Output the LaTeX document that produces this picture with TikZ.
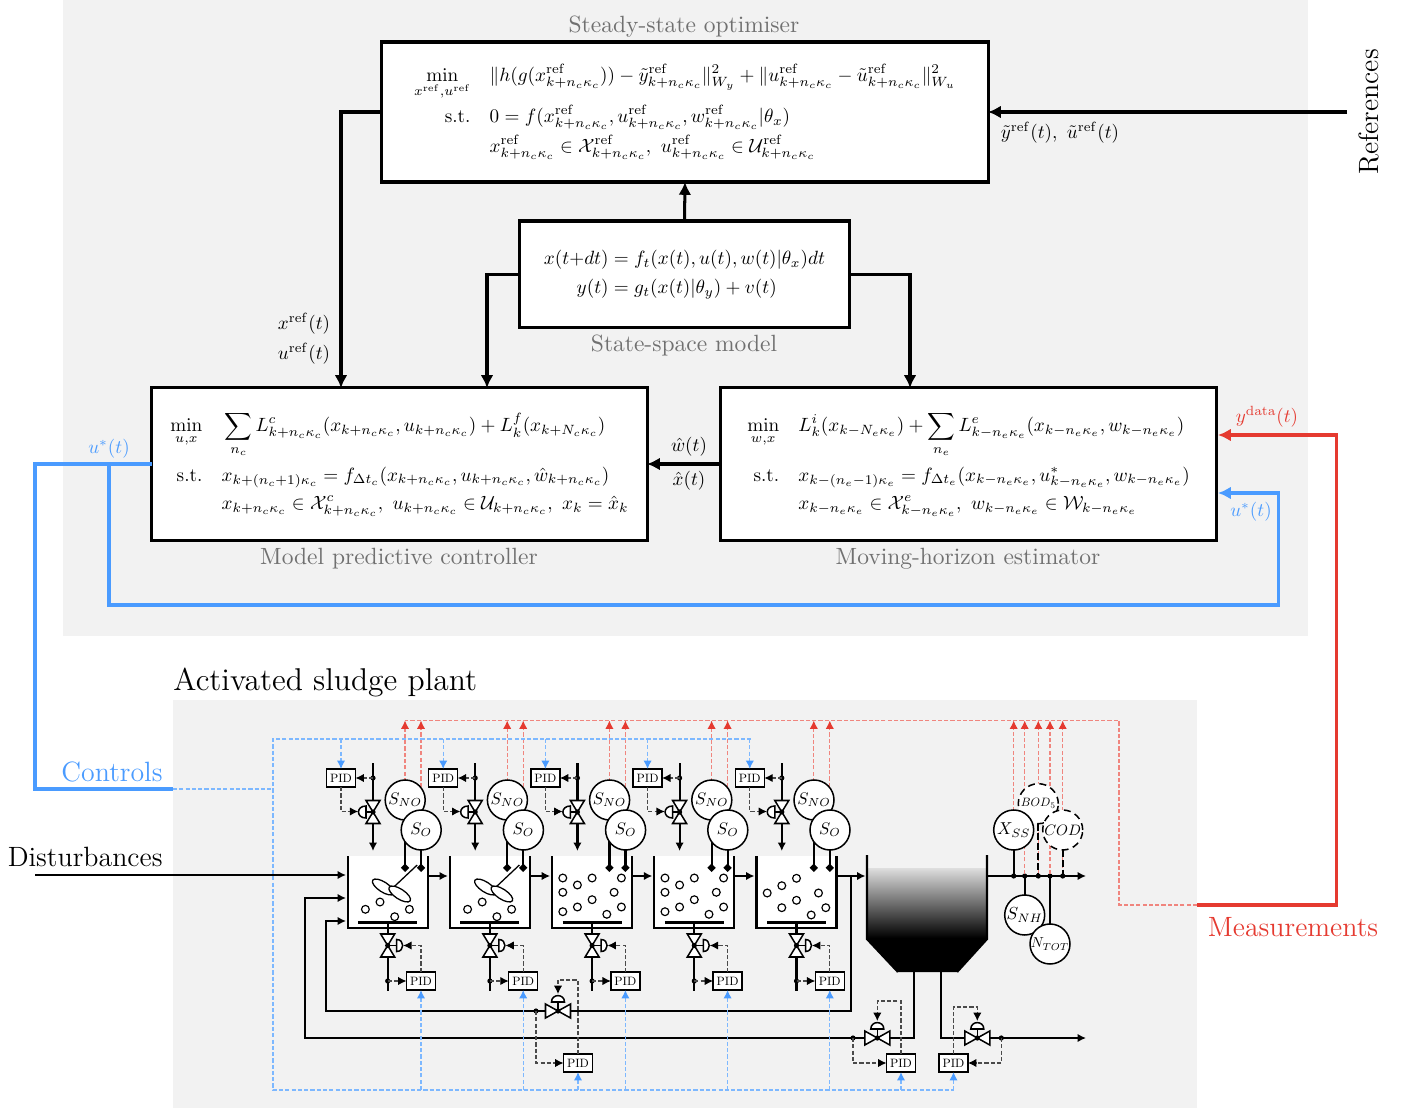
\documentclass[tikz,border=0pt]{standalone}
\usepackage{amsmath}
\usepackage{graphicx}
\usetikzlibrary{arrows.meta,calc}
\definecolor{panelgrey}{HTML}{F2F2F2}
\definecolor{capgrey}{HTML}{707070}
\definecolor{ctrlblue}{HTML}{4A9BFF}
\definecolor{measred}{HTML}{E53A30}
\definecolor{ctrlsoft}{HTML}{7DB8FF}
\definecolor{meassoft}{HTML}{F0857E}
\definecolor{linksoft}{HTML}{4A4A4A}
\newcommand{\rfx}{\mathrm{ref}}
\newcommand{\kcc}{k+n_c\kappa_c}
\newcommand{\kee}{k-n_e\kappa_e}
\newcommand{\eqn}[1]{\scalebox{0.825}{$#1$}}
\newcommand{\sens}[2]{\makebox[0pt]{\scalebox{#1}{$#2$}}}
\newcommand{\pidtxt}{\scalebox{0.52}{PID}}
\tikzset{
  box/.style={draw=black,fill=white,line width=1.3pt,inner sep=0pt,outer sep=0pt},
  boxcaption/.style={text=capgrey,font=\fontsize{10.1}{13}\selectfont},
  biglabel/.style={font=\fontsize{12}{14}\selectfont,inner sep=0pt},
  mathlabel/.style={scale=0.82},
  mainarrow/.style={line width=1.3pt,-{Latex[length=5.5pt,width=5.5pt]}},
  blueline/.style={line width=1.3pt,color=ctrlblue},
  redline/.style={line width=1.3pt,color=measred},
  pipe/.style={line width=0.95pt},
  pipearrow/.style={line width=0.95pt,-{Latex[length=3.6pt,width=3.6pt]}},
  pidbox/.style={draw=black,fill=white,line width=0.65pt,minimum width=12.5pt,minimum height=7.8pt,inner sep=0pt,outer sep=0pt},
  sensor/.style={circle,draw=black,fill=white,line width=0.65pt,minimum size=17.2pt,inner sep=0pt,outer sep=0pt},
  dsensor/.style={sensor,densely dashed},
  bluedash/.style={color=ctrlsoft,line width=0.55pt,dash pattern=on 1.8pt off 0.9pt,-{Latex[length=3.6pt,width=3.6pt,color=ctrlblue]}},
  reddash/.style={color=meassoft,line width=0.55pt,dash pattern=on 1.8pt off 0.9pt,-{Latex[length=3.6pt,width=3.6pt,color=measred]}},
  bluedashn/.style={color=ctrlsoft,line width=0.55pt,dash pattern=on 1.8pt off 0.9pt},
  reddashn/.style={color=meassoft,line width=0.55pt,dash pattern=on 1.8pt off 0.9pt},
  linkarrow/.style={color=linksoft,line width=0.5pt,dash pattern=on 1.8pt off 0.9pt,-{Latex[length=3.6pt,width=3.6pt,color=black]}},
  valvepart/.style={draw=black,fill=white,line width=0.65pt},
  bubble/.style={draw=black,fill=white,line width=0.5pt},
  vvalve/.pic={\path[valvepart] (-7,-11.5)--(7,-11.5)--(0,0)--cycle; \path[valvepart] (-7,11.5)--(7,11.5)--(0,0)--cycle; \fill (0,0) circle[radius=2.6];},
  hvalve/.pic={\path[valvepart] (-12.5,-7)--(-12.5,7)--(0,0)--cycle; \path[valvepart] (12.5,-7)--(12.5,7)--(0,0)--cycle; \fill (0,0) circle[radius=2.6];},
  actleft/.pic={\draw[line width=0.65pt] (0,0)--(-7,0); \path[valvepart] (-7,-6) .. controls (-17,-6) and (-17,6) .. (-7,6) -- cycle;},
  actright/.pic={\draw[line width=0.65pt] (0,0)--(9,0); \path[valvepart] (9,-6) .. controls (17,-6) and (17,6) .. (9,6) -- cycle;},
  acttop/.pic={\draw[line width=0.65pt] (0,0)--(0,-9); \path[valvepart] (-6.5,-9) .. controls (-6.5,-17.5) and (6.5,-17.5) .. (6.5,-9) -- cycle;},
}
\begin{document}
\begin{tikzpicture}[x=0.43pt,y=-0.43pt]
\useasboundingbox (0,0) rectangle (1414,1108);
% panels
\fill[panelgrey] (63,0) rectangle (1308,636);
\fill[panelgrey] (173,700) rectangle (1197,1108);

% upper boxes
\node[box,minimum width=260.6pt,minimum height=60.2pt] (sso) at (685,112) {\eqn{\begin{aligned}
 \min_{x^{\rfx},u^{\rfx}}\quad & \|h(g(x^{\rfx}_{\kcc}))-\tilde y^{\rfx}_{\kcc}\|^2_{W_y}+\|u^{\rfx}_{\kcc}-\tilde u^{\rfx}_{\kcc}\|^2_{W_u}\\[-1pt]
 \text{s.t.}\quad & 0=f(x^{\rfx}_{\kcc},u^{\rfx}_{\kcc},w^{\rfx}_{\kcc}|\theta_x)\\[-1pt]
 & x^{\rfx}_{\kcc}\in\mathcal{X}^{\rfx}_{\kcc},\ u^{\rfx}_{\kcc}\in\mathcal{U}^{\rfx}_{\kcc}
\end{aligned}}};
\node[box,minimum width=141.5pt,minimum height=46pt] (ssm) at (684.5,274.5) {\eqn{\begin{aligned}
 x(t{+}dt)&=f_t(x(t),u(t),w(t)|\theta_x)dt\\[0.5pt]
 y(t)&=g_t(x(t)|\theta_y)+v(t)
\end{aligned}}};
\node[box,minimum width=212.9pt,minimum height=65.4pt] (mpc) at (399.5,464) {\eqn{\begin{aligned}
 \min_{u,x}\quad & \sum_{n_c}L^c_{\kcc}(x_{\kcc},u_{\kcc})+L^f_k(x_{k+N_c\kappa_c})\\
 \text{s.t.}\quad & x_{k+(n_c+1)\kappa_c}=f_{\Delta t_c}(x_{\kcc},u_{\kcc},\hat w_{\kcc})\\
 & x_{\kcc}\in\mathcal{X}^c_{\kcc},\ u_{\kcc}\in\mathcal{U}_{\kcc},\ x_k=\hat x_k
\end{aligned}}};
\node[box,minimum width=212.9pt,minimum height=65.4pt] (mhe) at (968.5,464) {\eqn{\begin{aligned}
 \min_{w,x}\quad & L^i_k(x_{k-N_e\kappa_e})+\sum_{n_e}L^e_{\kee}(x_{\kee},w_{\kee})\\
 \text{s.t.}\quad & x_{k-(n_e-1)\kappa_e}=f_{\Delta t_e}(x_{\kee},u^*_{\kee},w_{\kee})\\
 & x_{\kee}\in\mathcal{X}^e_{\kee},\ w_{\kee}\in\mathcal{W}_{\kee}
\end{aligned}}};

% captions
\node[boxcaption] (capsso) at (684,27) {Steady-state optimiser};
\node[boxcaption] (capssm) at (684,346) {State-space model};
\node[boxcaption] (capmpc) at (399,559) {Model predictive controller};
\node[boxcaption] (capmhe) at (968,559) {Moving-horizon estimator};

% upper connectors
\coordinate (refin) at (1347,112);
\coordinate (ssoleft) at (341,388);
\coordinate (ssmleft) at (487,388);
\coordinate (ssmright) at (910,388);
\draw[mainarrow] (sso.west) -| (ssoleft);
\draw[mainarrow] (ssm.north) -- (sso.south);
\draw[mainarrow] (ssm.west) -| (ssmleft);
\draw[mainarrow] (ssm.east) -| (ssmright);
\draw[mainarrow] (mhe.west) -- (mpc.east);
\draw[mainarrow] (refin) -- (sso.east);
\node[biglabel,rotate=90] (refs) at (1369,112) {References};
\node[mathlabel] (reflab) at (1060,133) {$\tilde y^{\rfx}(t),\ \tilde u^{\rfx}(t)$};
\node[mathlabel] (xreflab) at (304,324) {$x^{\rfx}(t)$};
\node[mathlabel] (ureflab) at (304,354) {$u^{\rfx}(t)$};
\node[mathlabel] (wlab) at (689,447) {$\hat w(t)$};
\node[mathlabel] (xlab) at (689,481) {$\hat x(t)$};

% controls and measurements
\coordinate (uout) at (35,464);
\coordinate (ctrlend) at (173,789);
\coordinate (ubranch) at (109,464);
\coordinate (ubot) at (109,605);
\coordinate (uright) at (1278,605);
\coordinate (uin) at (1218,493);
\coordinate (ycorner) at (1336,905);
\coordinate (yin) at (1218,435);
\coordinate (measstart) at (1197,905);
\draw[blueline,line join=miter] (mpc.west) -- (uout) |- (ctrlend);
\draw[blueline,-{Latex[length=5.5pt,width=5.5pt]}] (ubranch) -- (ubot) -- (uright) |- (uin);
\draw[redline,-{Latex[length=5.5pt,width=5.5pt]}] (measstart) -- (ycorner) |- (yin);
\node[mathlabel,text=ctrlblue] (ulab1) at (109,449) {$u^{*}(t)$};
\node[mathlabel,text=ctrlblue] (ulab2) at (1251,512) {$u^{*}(t)$};
\node[mathlabel,text=measred] (ylab) at (1267,417) {$y^{\mathrm{data}}(t)$};
\node[biglabel,text=ctrlblue,anchor=base east] (ctrllab) at (163,781) {Controls};
\node[biglabel,anchor=base east] (distlab) at (163,866) {Disturbances};
\node[biglabel,text=measred,anchor=base] (measlab) at (1293,936) {Measurements};
\node[font=\fontsize{13.55}{15}\selectfont,inner sep=0pt,anchor=base west] (plantlab) at (173,690) {Activated sludge plant};

% return lines and trunk
\draw[pipearrow] (35,875) -- (346,875);
\draw[pipe] (570,1011) -- (851,1011) -- (851,877);
\draw[pipearrow] (545,1011) -- (326,1011) -- (326,921) -- (346,921);
\draw[pipearrow] (865,1038) -- (305,1038) -- (305,898) -- (346,898);

% tanks
\foreach \i/\xl in {1/347.7,2/449.9,3/552.1,4/654.3,5/756.5}{
\begin{scope}[shift={(\xl,0)}]
  \fill[white] (0,856) rectangle (80,928);
  \draw[line width=0.95pt] (0,856) -- (0,928) -- (80,928) -- (80,856);
  \draw[line width=0.95pt] (10.5,922.5) -- (69.5,922.5);
  \draw[pipe] (40,922.5) -- (40,991);
  \fill (40,981) circle[radius=2.6];
  \path (40,945.5) pic {vvalve} pic {actright};
  \draw[pipearrow] (25.3,763) -- (25.3,851);
  \fill (25.3,778) circle[radius=2.6];
  \path (25.3,812) pic {vvalve} pic {actleft};
  \draw[pipe,-{Diamond[length=3.6pt,width=3.6pt]}] (57.3,800) -- (57.3,872);
  \draw[pipe,-{Diamond[length=3.6pt,width=3.6pt]}] (73.3,830) -- (73.3,872);
  \draw[reddash] (57.3,782) -- (57.3,720.5);
  \draw[reddash] (73.3,812) -- (73.3,720.5);
  \node[sensor] (sno\i) at (57.5,800) {\sens{0.72}{S_{NO}}};
  \node[sensor] (so\i) at (73.5,830) {\sens{0.72}{S_{O}}};
  \node[pidbox] (pidt\i) at (-6.7,778) {\pidtxt};
  \node[pidbox] (pidb\i) at (73.3,981) {\pidtxt};
  \draw[bluedash] (-6.7,739) -- (pidt\i.north);
  \draw[linkarrow] (25.3,778) -- (pidt\i.east);
  \draw[linkarrow] (pidt\i.south) |- (10.5,811.5);
  \draw[linkarrow] (40,981) -- (pidb\i.west);
  \draw[linkarrow] (pidb\i.north) |- (55.5,945.5);
  \draw[bluedash] (73.3,1090) -- (pidb\i.south);
\end{scope}
}
% agitators (first two tanks)
\foreach \xl in {347.7,449.9}{
\begin{scope}[shift={(\xl,0)}]
  \draw[line width=0.55pt] (69.5,865) -- (44,889);
  \draw[bubble,line width=0.55pt,rotate around={-33:(35.5,887)}] (35.5,887) ellipse[x radius=12.5,y radius=5];
  \draw[bubble,line width=0.55pt,rotate around={-33:(52,894)}] (52,894) ellipse[x radius=12.5,y radius=5];
  \foreach \bx/\by in {17.7/53.3,32.3/46,47/60.7,61.7/53.3}{\draw[bubble] (\bx,856+\by) circle[radius=3.9];}
\end{scope}
}
% bubbles of the aerated tanks
\foreach \xl in {552.1,654.3}{
\begin{scope}[shift={(\xl,0)}]
  \foreach \bx/\by in {10.7/22,25.3/29,40/22,69.3/22,10.7/36.3,62/36.3,40/43.7,25.3/51,10.7/55.7,54.7/58.3,69.3/51}{\draw[bubble] (\bx,856+\by) circle[radius=3.9];}
\end{scope}
}
\begin{scope}[shift={(756.5,0)}]
  \foreach \bx/\by in {10.7/37,25.3/29.7,40/22.3,62/37,40/44.3,25.3/51.7,54.7/59,69.3/51.7}{\draw[bubble] (\bx,856+\by) circle[radius=3.9];}
\end{scope}
% tank to tank
\foreach \a/\b in {427.7/447.9,529.9/550.1,632.1/652.3,734.3/754.5,836.5/865.5}{
  \draw[pipearrow] (\a,876) -- (\b,876);
}

% clarifier
\shade[top color=black!13,bottom color=black] (867,868) rectangle (987,938);
\fill[black] (867,938) -- (867,939) -- (898,972) -- (957,972) -- (987,939) -- (987,938) -- cycle;
\draw[line width=0.95pt] (867,855) -- (867,939) -- (898,972) (987,855) -- (987,939) -- (957,972);

% underflow
\draw[pipe] (914,972) -- (914,1038) -- (890,1038);
\draw[pipearrow] (941,972) -- (941,1038) -- (1086,1038);
\path (558,1011) pic {hvalve} pic {acttop};
\path (877.3,1038) pic {hvalve} pic {acttop};
\path (977.3,1038) pic {hvalve} pic {acttop};
\foreach \dx/\dy in {536/1011,853/1038,1001.3/1038}{\fill (\dx,\dy) circle[radius=2.6];}

% lower PIDs
\node[pidbox] (pidr) at (578,1063) {\pidtxt};
\node[pidbox] (pidw) at (901,1063) {\pidtxt};
\node[pidbox] (pide) at (953.5,1063) {\pidtxt};
\draw[linkarrow] (536,1011) |- (pidr.west);
\draw[linkarrow] (pidr.north) -- (578,980) -- (558,980) -- (558,994);
\draw[linkarrow] (853,1038) |- (pidw.west);
\draw[linkarrow] (pidw.north) -- (901,1001) -- (877.3,1001) -- (877.3,1021);
\draw[linkarrow] (1001.3,1038) |- (pide.east);
\draw[linkarrow] (pide.north) -- (953.5,1007) -- (977.3,1007) -- (977.3,1021);

% effluent and quality sensors
\draw[pipearrow] (987,876) -- (1086,876);
\foreach \sx in {1013.7,1024.7,1038.3,1050,1062.7}{
  \fill (\sx,876) circle[radius=2.6];
  \draw[reddash] (\sx,874) -- (\sx,720.5);
}
\node[dsensor] (bod) at (1038.3,803.7) {\sens{0.52}{BOD_5}};
\node[sensor] (xss) at (1013.7,830) {\sens{0.74}{X_{SS}}};
\node[dsensor] (cod) at (1062.7,830) {\sens{0.65}{COD}};
\node[sensor] (snh) at (1024.7,915) {\sens{0.75}{S_{NH}}};
\node[sensor] (ntot) at (1050,944) {\sens{0.62}{N_{TOT}}};
\coordinate (jx) at (1013.7,876);
\coordinate (jh) at (1024.7,876);
\coordinate (jb) at (1038.3,876);
\coordinate (jn) at (1050,876);
\coordinate (jc) at (1062.7,876);
\draw[pipe] (xss.south) -- (jx);
\draw[pipe,dash pattern=on 3pt off 1.2pt] (bod.south) -- (jb);
\draw[pipe,dash pattern=on 3pt off 1.2pt] (cod.south) -- (jc);
\draw[pipe] (jh) -- (snh.north);
\draw[pipe] (jn) -- (ntot.north);

% signal trunks
\draw[bluedashn] (ctrlend) -- (273,789);
\draw[bluedashn] (751.1,739) -- (273,739) -- (273,1090) -- (953.5,1090);
\draw[bluedash] (578,1090) -- (pidr.south);
\draw[bluedash] (901,1090) -- (pidw.south);
\draw[bluedash] (953.5,1090) -- (pide.south);
\coordinate (redcorner) at (1119,905);
\draw[reddashn] (measstart) -- (redcorner) -- (1119,720.5) -- (405,720.5);
\end{tikzpicture}
\end{document}
